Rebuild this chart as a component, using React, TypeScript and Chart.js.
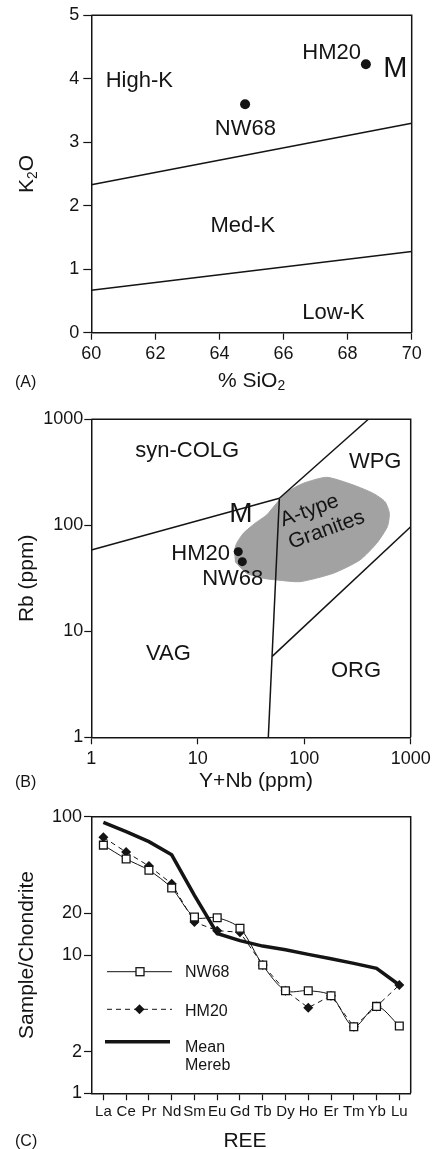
import React, { useEffect, useRef } from "react";
import { Chart, registerables } from "chart.js";

Chart.register(...registerables);

// ---------------- Panel A : K2O vs SiO2 ----------------
const SIO2_TICKS = [60, 62, 64, 66, 68, 70];
const K2O_TICKS = [0, 1, 2, 3, 4, 5];
const A_SAMPLE_NAMES = ["NW68", "HM20"];
const A_SIO2 = [64.8, 68.57];
const A_K2O = [3.6, 4.23];
const HIGH_MED_SIO2 = [60, 70];
const HIGH_MED_K2O = [2.33, 3.3];
const MED_LOW_SIO2 = [60, 70];
const MED_LOW_K2O = [0.67, 1.28];
const A_FIELDS = ["High-K", "Med-K", "Low-K"];

// ---------------- Panel B : Rb vs Y+Nb ----------------
const YNB_TICKS = [1, 10, 100, 1000];
const RB_TICKS = [1, 10, 100, 1000];
const B_SAMPLE_NAMES = ["NW68", "HM20"];
const B_YNB = [26.2, 24.0];
const B_RB = [45.4, 56.4];
const COLG_VAG_YNB = [1, 58.4];
const COLG_VAG_RB = [58.5, 180];
const COLG_WPG_YNB = [58.4, 400];
const COLG_WPG_RB = [180, 1000];
const VAG_WPG_YNB = [58.4, 46];
const VAG_WPG_RB = [180, 1];
const WPG_ORG_YNB = [50, 1000];
const WPG_ORG_RB = [5.8, 97];
const ATYPE_YNB = [21.9, 23.2, 26.8, 34.5, 44.4, 53.2, 68.4, 98.1, 162.5, 289, 446, 574, 630, 604, 479, 334, 188, 91.3, 55.1, 41.3, 28.8, 22.4];
const ATYPE_RB = [56.4, 67.6, 84.1, 104.4, 125.2, 155.5, 204.8, 249, 283.7, 240, 200, 167, 130, 97, 67.6, 47.1, 35.3, 29.4, 30.5, 31.6, 35.3, 45.4];
const B_FIELDS = ["syn-COLG", "WPG", "VAG", "ORG"];
const ATYPE_LABEL = ["A-type", "Granites"];

// ---------------- Panel C : REE patterns ----------------
const REE = ["La", "Ce", "Pr", "Nd", "Sm", "Eu", "Gd", "Tb", "Dy", "Ho", "Er", "Tm", "Yb", "Lu"];
const NW68_REE = [62.3, 49.5, 41, 30.5, 18.8, 18.6, 15.6, 8.46, 5.52, 5.52, 5.08, 3.03, 4.25, 3.07];
const HM20_REE = [71, 55.5, 44, 32.8, 17.3, 15.0, 14.6, 8.46, 5.52, 4.16, 5.08, 3.03, 4.25, 6.07];
const MEREB_REE = [91, 78, 66, 53, 27, 14.3, 12.7, 11.6, 10.9, 10.1, 9.4, 8.7, 8.0, 6.07];
const REE_Y_TICKS = [1, 2, 10, 20, 100];
const LEGEND_NAMES = ["NW68", "HM20", "Mean", "Mereb"];

// ---------------- styling ----------------
const INK = "#141414";
const GRAY = "#a2a2a2";
const FONT = "'Liberation Sans', Arial, Helvetica, sans-serif";

const zip = (xs: number[], ys: number[]) => xs.map((x, i) => ({ x, y: ys[i] }));

type Part = [string, boolean?];

function drawParts(ctx: CanvasRenderingContext2D, parts: Part[], x: number, y: number, size: number, align: "left" | "center" | "right") {
  const sub = size * 0.66;
  const widths = parts.map(([t, s]) => {
    ctx.font = `${s ? sub : size}px ${FONT}`;
    return ctx.measureText(t).width;
  });
  const total = widths.reduce((a, b) => a + b, 0);
  let cx = align === "center" ? x - total / 2 : align === "right" ? x - total : x;
  ctx.textAlign = "left";
  ctx.textBaseline = "alphabetic";
  parts.forEach(([t, s], i) => {
    ctx.font = `${s ? sub : size}px ${FONT}`;
    ctx.fillText(t, cx, s ? y + size * 0.18 : y);
    cx += widths[i];
  });
}

function drawRotated(ctx: CanvasRenderingContext2D, parts: Part[], x: number, y: number, size: number) {
  ctx.save();
  ctx.translate(x, y);
  ctx.rotate(-Math.PI / 2);
  drawParts(ctx, parts, 0, 0, size, "center");
  ctx.restore();
}

function drawFrame(chart: any) {
  const { ctx, chartArea: a } = chart;
  ctx.save();
  ctx.strokeStyle = INK;
  ctx.lineWidth = 1.5;
  ctx.beginPath();
  ctx.moveTo(a.left, a.top);
  ctx.lineTo(a.right, a.top);
  ctx.lineTo(a.right, a.bottom);
  ctx.stroke();
  ctx.restore();
}

function txt(ctx: CanvasRenderingContext2D, t: string, x: number, y: number, size: number, align: CanvasTextAlign = "center") {
  ctx.font = `${size}px ${FONT}`;
  ctx.textAlign = align;
  ctx.textBaseline = "alphabetic";
  ctx.fillText(t, x, y);
}

const axisStyle = (tickLength: number, padding: number, size = 18) => ({
  border: { display: true, color: INK, width: 1.5 },
  grid: { display: true, drawOnChartArea: false, drawTicks: true, tickLength, color: INK, tickColor: INK, tickWidth: 1.2 },
  ticks: { color: INK, font: { family: FONT, size }, padding, autoSkip: false, maxRotation: 0, minRotation: 0 },
});

const fixedTicks = (vals: number[]) => (s: any) => {
  s.ticks = vals.map((v) => ({ value: v }));
};

// ---------------- Panel A config ----------------
const annotA = {
  id: "annotA",
  afterDraw(chart: any) {
    const { ctx, chartArea: a, scales } = chart;
    const X = (v: number) => scales.x.getPixelForValue(v);
    const Y = (v: number) => scales.y.getPixelForValue(v);
    drawFrame(chart);
    ctx.save();
    ctx.fillStyle = INK;
    txt(ctx, A_FIELDS[0], X(61.5), Y(3.866), 22);
    txt(ctx, A_FIELDS[1], X(64.73), Y(1.591), 22);
    txt(ctx, A_FIELDS[2], X(67.56), Y(0.211), 22);
    txt(ctx, A_SAMPLE_NAMES[0], X(64.81), Y(3.114), 22);
    txt(ctx, A_SAMPLE_NAMES[1], X(67.5), Y(4.307), 22);
    txt(ctx, "M", X(69.49), Y(4.023), 29);
    drawRotated(ctx, [["K"], ["2", true], ["O"]], a.left - 58, (a.top + a.bottom) / 2, 21);
    drawParts(ctx, [["% SiO"], ["2", true]], (a.left + a.right) / 2, a.bottom + 54, 21, "center");
    txt(ctx, "(A)", 15, 387, 16, "left");
    ctx.restore();
  },
};

const configA = () => ({
  type: "scatter",
  data: {
    datasets: [
      { label: "Samples", data: zip(A_SIO2, A_K2O), pointRadius: 5, pointBackgroundColor: INK, pointBorderColor: INK, pointBorderWidth: 0, showLine: false },
      { label: "High-K / Med-K", data: zip(HIGH_MED_SIO2, HIGH_MED_K2O), showLine: true, borderColor: INK, borderWidth: 1.5, pointRadius: 0 },
      { label: "Med-K / Low-K", data: zip(MED_LOW_SIO2, MED_LOW_K2O), showLine: true, borderColor: INK, borderWidth: 1.5, pointRadius: 0 },
    ],
  },
  options: {
    responsive: false,
    animation: false,
    events: [],
    layout: { padding: { left: 41.3, right: 27.3, top: 15.3, bottom: 19.3 } },
    plugins: { legend: { display: false }, tooltip: { enabled: false } },
    scales: {
      x: { type: "linear", min: 60, max: 70, afterBuildTicks: fixedTicks(SIO2_TICKS), afterFit: (s: any) => { s.height = 40; }, ...axisStyle(7, 4) },
      y: { type: "linear", min: 0, max: 5, afterBuildTicks: fixedTicks(K2O_TICKS), afterFit: (s: any) => { s.width = 50; }, ...axisStyle(8, 4) },
    },
  },
  plugins: [annotA],
});

// ---------------- Panel B config ----------------
const annotB = {
  id: "annotB",
  afterDraw(chart: any) {
    const { ctx, chartArea: a, scales } = chart;
    const X = (v: number) => scales.x.getPixelForValue(v);
    const Y = (v: number) => scales.y.getPixelForValue(v);
    drawFrame(chart);
    ctx.save();
    ctx.fillStyle = INK;
    txt(ctx, B_FIELDS[0], X(7.96), Y(438), 22);
    txt(ctx, B_FIELDS[1], X(464), Y(345), 22);
    txt(ctx, B_FIELDS[2], X(5.29), Y(5.36), 22);
    txt(ctx, B_FIELDS[3], X(306), Y(3.68), 22);
    txt(ctx, "M", X(25.4), Y(108), 28);
    txt(ctx, B_SAMPLE_NAMES[1], X(20.1), Y(47.1), 22, "right");
    txt(ctx, B_SAMPLE_NAMES[0], X(21.3), Y(27.3), 22);
    ctx.save();
    ctx.translate(X(63.2), Y(97.4));
    ctx.rotate((-20 * Math.PI) / 180);
    txt(ctx, ATYPE_LABEL[0], 0, 0, 21, "left");
    txt(ctx, ATYPE_LABEL[1], 0, 24, 21, "left");
    ctx.restore();
    drawRotated(ctx, [["Rb (ppm)"]], a.left - 58, (a.top + a.bottom) / 2, 21);
    drawParts(ctx, [["Y+Nb (ppm)"]], 256, a.bottom + 49.4, 21, "center");
    txt(ctx, "(B)", 15, 395, 16, "left");
    ctx.restore();
  },
};

const lineDs = (label: string, xs: number[], ys: number[]) => ({
  label, data: zip(xs, ys), showLine: true, borderColor: INK, borderWidth: 1.5, pointRadius: 0, order: 1,
});

const configB = () => ({
  type: "scatter",
  data: {
    datasets: [
      { label: "Samples", data: zip(B_YNB, B_RB), pointRadius: 4.5, pointBackgroundColor: INK, pointBorderColor: INK, pointBorderWidth: 0, showLine: false, order: 0 },
      lineDs("syn-COLG / VAG", COLG_VAG_YNB, COLG_VAG_RB),
      lineDs("syn-COLG / WPG", COLG_WPG_YNB, COLG_WPG_RB),
      lineDs("VAG / WPG-ORG", VAG_WPG_YNB, VAG_WPG_RB),
      lineDs("WPG / ORG", WPG_ORG_YNB, WPG_ORG_RB),
      { label: "A-type Granites", data: zip(ATYPE_YNB, ATYPE_RB), showLine: true, fill: "shape", backgroundColor: GRAY, borderColor: GRAY, borderWidth: 1, pointRadius: 0, tension: 0.2, order: 10 },
    ],
  },
  options: {
    responsive: false,
    animation: false,
    events: [],
    layout: { padding: { left: 41.3, right: 28.3, top: 27.3, bottom: 14.7 } },
    plugins: { legend: { display: false }, tooltip: { enabled: false } },
    scales: {
      x: { type: "logarithmic", min: 1, max: 1000, afterBuildTicks: fixedTicks(YNB_TICKS), afterFit: (s: any) => { s.height = 40; }, ...axisStyle(7, 4), ticks: { ...axisStyle(7, 4).ticks, callback: (v: any) => String(v) } },
      y: { type: "logarithmic", min: 1, max: 1000, afterBuildTicks: fixedTicks(RB_TICKS), afterFit: (s: any) => { s.width = 50; }, ...axisStyle(7, 1), ticks: { ...axisStyle(7, 1).ticks, callback: (v: any) => String(v) } },
    },
  },
  plugins: [annotB],
});

// ---------------- Panel C config ----------------
const annotC = {
  id: "annotC",
  afterDraw(chart: any) {
    const { ctx, chartArea: a } = chart;
    drawFrame(chart);
    ctx.save();
    ctx.fillStyle = INK;
    ctx.strokeStyle = INK;
    const L = a.left, T = a.top;
    // NW68
    ctx.lineWidth = 1;
    ctx.beginPath();
    ctx.moveTo(L + 15, T + 155);
    ctx.lineTo(L + 80, T + 155);
    ctx.stroke();
    ctx.fillStyle = "#fff";
    ctx.fillRect(L + 44, T + 151, 8, 8);
    ctx.lineWidth = 1.3;
    ctx.strokeRect(L + 44, T + 151, 8, 8);
    ctx.fillStyle = INK;
    txt(ctx, LEGEND_NAMES[0], L + 93, T + 160.6, 16, "left");
    // HM20
    ctx.lineWidth = 1;
    ctx.setLineDash([5, 4]);
    ctx.beginPath();
    ctx.moveTo(L + 15, T + 192.6);
    ctx.lineTo(L + 80, T + 192.6);
    ctx.stroke();
    ctx.setLineDash([]);
    ctx.beginPath();
    const dx = L + 47.5, dy = T + 192.6, r = 5;
    ctx.moveTo(dx, dy - r);
    ctx.lineTo(dx + r, dy);
    ctx.lineTo(dx, dy + r);
    ctx.lineTo(dx - r, dy);
    ctx.closePath();
    ctx.fill();
    txt(ctx, LEGEND_NAMES[1], L + 93, T + 199, 16, "left");
    // Mean Mereb
    ctx.lineWidth = 3.5;
    ctx.beginPath();
    ctx.moveTo(L + 13, T + 225);
    ctx.lineTo(L + 78, T + 225);
    ctx.stroke();
    txt(ctx, LEGEND_NAMES[2], L + 93, T + 235, 16, "left");
    txt(ctx, LEGEND_NAMES[3], L + 93, T + 253.3, 16, "left");
    drawRotated(ctx, [["Sample/Chondrite"]], a.left - 59, (a.top + a.bottom) / 2, 21);
    drawParts(ctx, [["REE"]], 245, 355, 21, "center");
    txt(ctx, "(C)", 15, 354, 16, "left");
    ctx.restore();
  },
};

const configC = () => ({
  type: "line",
  data: {
    labels: REE,
    datasets: [
      { label: "NW68", data: NW68_REE, borderColor: INK, borderWidth: 1, tension: 0.3, pointStyle: "rect", pointRadius: 5.5, pointBackgroundColor: "#fff", pointBorderColor: INK, pointBorderWidth: 1.3, fill: false },
      { label: "HM20", data: HM20_REE, borderColor: INK, borderWidth: 1, borderDash: [5, 4], tension: 0, pointStyle: "rectRot", pointRadius: 5, pointBackgroundColor: INK, pointBorderColor: INK, pointBorderWidth: 0, fill: false },
      { label: "Mean Mereb", data: MEREB_REE, borderColor: INK, borderWidth: 3.5, tension: 0, pointRadius: 0, fill: false },
    ],
  },
  options: {
    responsive: false,
    animation: false,
    events: [],
    layout: { padding: { left: 42, right: 28.3, top: 24.7, bottom: 20.7 } },
    plugins: { legend: { display: false }, tooltip: { enabled: false } },
    scales: {
      x: { type: "category", offset: true, afterFit: (s: any) => { s.height = 35; }, ...axisStyle(7, 3, 15), grid: { ...axisStyle(7, 3).grid, offset: false } },
      y: { type: "logarithmic", min: 1, max: 100, afterBuildTicks: fixedTicks(REE_Y_TICKS), afterFit: (s: any) => { s.width = 50; }, ...axisStyle(8, 2), ticks: { ...axisStyle(8, 2).ticks, callback: (v: any) => String(v) } },
    },
  },
  plugins: [annotC],
});

function ChartCanvas({ top, height, make }: { top: number; height: number; make: () => any }) {
  const ref = useRef<HTMLCanvasElement | null>(null);
  useEffect(() => {
    const chart = new Chart(ref.current as HTMLCanvasElement, make());
    return () => chart.destroy();
  }, []);
  return (
    <canvas
      ref={ref}
      width={439}
      height={height}
      style={{ position: "absolute", left: 0, top, width: 439, height, display: "block" }}
    />
  );
}

export default function App() {
  return (
    <div style={{ position: "absolute", left: 0, top: 0, width: 439, height: 1149, background: "#fff", overflow: "hidden" }}>
      <ChartCanvas top={0} height={392} make={configA} />
      <ChartCanvas top={392} height={400} make={configB} />
      <ChartCanvas top={792} height={357} make={configC} />
    </div>
  );
}
